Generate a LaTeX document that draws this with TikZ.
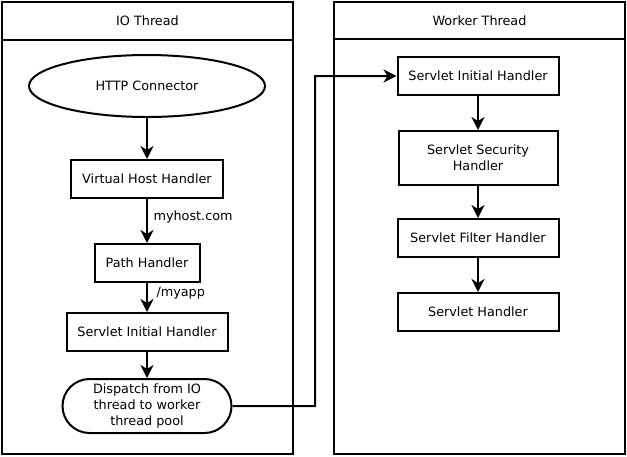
\documentclass[tikz,border=0pt]{standalone}
\usepackage{fontspec}
\setmainfont{DejaVu Sans}
\usetikzlibrary{arrows.meta, positioning, shapes.geometric, shapes.misc}

\begin{document}
\begin{tikzpicture}[
    x=1pt, y=-1pt,
    font=\fontsize{12.8}{16}\selectfont,
    lane/.style={rectangle, draw, line width=2pt, inner sep=0pt, anchor=north west},
    handler/.style={rectangle, draw, line width=2pt, inner sep=2pt, text=black,
        align=center, minimum width=161pt, minimum height=38pt},
    arrow/.style={line width=2pt, -{Stealth[length=13pt, width=13pt, inset=4pt]}}
]
    \useasboundingbox (0,0) rectangle (627,456);

    % Lanes ------------------------------------------------------

    \node[lane, minimum width=291pt, minimum height=38pt] (iohead) at (1,1) {IO Thread};
    \node[lane, minimum width=291pt, minimum height=414pt] (iobody) at (1,39) {};
    \node[lane, minimum width=291pt, minimum height=37pt] (wkhead) at (333,1) {Worker Thread};
    \node[lane, minimum width=291pt, minimum height=415pt] (wkbody) at (333,38) {};

    % IO thread nodes --------------------------------------------

    \node[ellipse, draw, line width=2pt, inner sep=0pt, minimum width=236pt, minimum height=62pt] (http) at (147,86) {HTTP Connector};
    \node[handler, minimum width=152pt] (vhost) at (147,179) {Virtual Host Handler};
    \node[handler, minimum width=105pt] (path) at (147,263) {Path Handler};
    \node[handler] (ioinit) at (147,332) {Servlet Initial Handler};
    \node[rounded rectangle, draw, line width=2pt, align=center, inner sep=1pt,
        minimum width=171pt, minimum height=54pt] (dispatch) at (147,406)
        {Dispatch from IO\\thread to worker\\thread pool};

    \node[anchor=west] (hostlbl) at (150,217) {myhost.com};
    \node[anchor=west] (applbl) at (153,293) {/myapp};

    % Worker thread nodes ----------------------------------------

    \node[handler] (wkinit) at (478,76) {Servlet Initial Handler};
    \node[handler, minimum width=159pt, minimum height=54pt] (security) at (478,158) {Servlet Security\\Handler};
    \node[handler] (filter) at (478,238) {Servlet Filter Handler};
    \node[handler] (servlet) at (478,312) {Servlet Handler};

    % Connectors -------------------------------------------------

    \draw[arrow] (http) -- (vhost);
    \draw[arrow] (vhost) -- (path);
    \draw[arrow] (path) -- (ioinit);
    \draw[arrow] (ioinit) -- (dispatch);
    \coordinate (turn) at (315,406);
    \draw[arrow] (dispatch) -- (turn) |- (wkinit);
    \draw[arrow] (wkinit) -- (security);
    \draw[arrow] (security) -- (filter);
    \draw[arrow] (filter) -- (servlet);

\end{tikzpicture}
\end{document}
